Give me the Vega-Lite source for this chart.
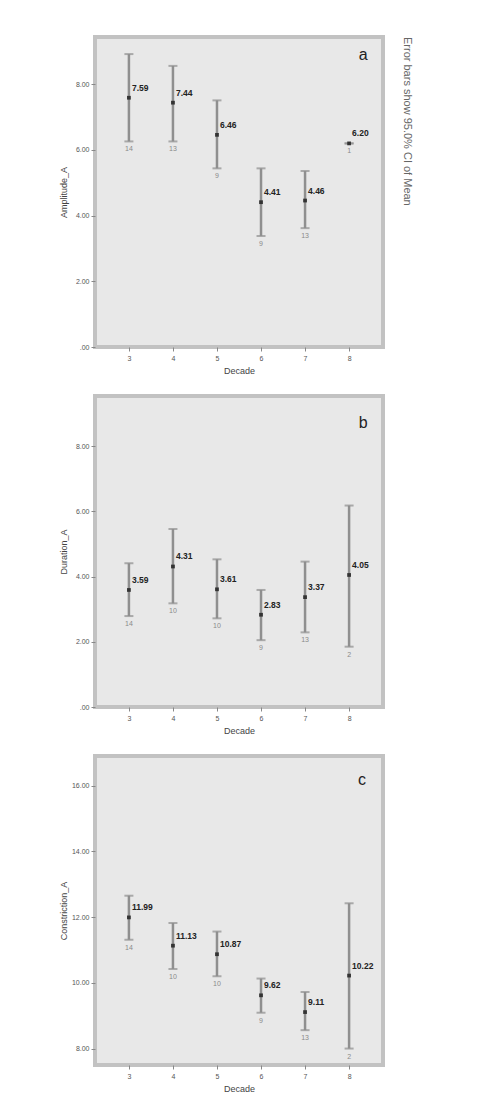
{
  "$schema": "https://vega.github.io/schema/vega-lite/v6.json",
  "padding": {"left": 57, "top": 35, "right": 5, "bottom": 5},
  "background": "white",
  "spacing": 17,
  "config": {
    "font": "Liberation Sans",
    "view": {"fill": "#e8e8e8", "stroke": "#c2c2c2", "strokeWidth": 4},
    "axis": {"grid": false, "domain": false, "labelFontSize": 7, "labelColor": "#555", "titleFontSize": 9, "titleFontWeight": "normal", "titleColor": "#444", "tickColor": "#888", "tickSize": 4},
    "axisX": {"labelAngle": 0, "labelPadding": 3, "titlePadding": 5},
    "axisY": {"minExtent": 24, "maxExtent": 24, "titlePadding": 3, "labelPadding": 2}
  },
  "datasets": {
    "a": [
      {"decade": "3", "mean": 7.59, "lo": 6.26, "hi": 8.92, "n": "14"},
      {"decade": "4", "mean": 7.44, "lo": 6.26, "hi": 8.56, "n": "13"},
      {"decade": "5", "mean": 6.46, "lo": 5.44, "hi": 7.51, "n": "9"},
      {"decade": "6", "mean": 4.41, "lo": 3.38, "hi": 5.44, "n": "9"},
      {"decade": "7", "mean": 4.46, "lo": 3.62, "hi": 5.36, "n": "13"},
      {"decade": "8", "mean": 6.20, "lo": 6.20, "hi": 6.20, "n": "1"}
    ],
    "b": [
      {"decade": "3", "mean": 3.59, "lo": 2.79, "hi": 4.41, "n": "14"},
      {"decade": "4", "mean": 4.31, "lo": 3.18, "hi": 5.46, "n": "10"},
      {"decade": "5", "mean": 3.61, "lo": 2.72, "hi": 4.53, "n": "10"},
      {"decade": "6", "mean": 2.83, "lo": 2.05, "hi": 3.59, "n": "9"},
      {"decade": "7", "mean": 3.37, "lo": 2.29, "hi": 4.46, "n": "13"},
      {"decade": "8", "mean": 4.05, "lo": 1.85, "hi": 6.18, "n": "2"}
    ],
    "c": [
      {"decade": "3", "mean": 11.99, "lo": 11.31, "hi": 12.65, "n": "14"},
      {"decade": "4", "mean": 11.13, "lo": 10.42, "hi": 11.82, "n": "10"},
      {"decade": "5", "mean": 10.87, "lo": 10.20, "hi": 11.56, "n": "10"},
      {"decade": "6", "mean": 9.62, "lo": 9.09, "hi": 10.13, "n": "9"},
      {"decade": "7", "mean": 9.11, "lo": 8.56, "hi": 9.72, "n": "13"},
      {"decade": "8", "mean": 10.22, "lo": 8.00, "hi": 12.42, "n": "2"}
    ]
  },
  "vconcat": [
    {
      "width": 288, "height": 310,
      "title": {"text": "Error bars show 95.0% CI of Mean", "orient": "right", "anchor": "start", "fontSize": 11, "fontWeight": "normal", "color": "#666", "offset": 19},
      "data": {"name": "a"},
      "layer": [
        {"mark": {"type": "rule", "color": "#8f8f8f", "strokeWidth": 2.5},
         "encoding": {
           "x": {"field": "decade", "type": "ordinal", "scale": {"type": "point", "padding": 0.77, "domain": ["3", "4", "5", "6", "7", "8"]}, "axis": {"title": "Decade"}},
           "y": {"field": "lo", "type": "quantitative", "scale": {"domain": [0, 9.44], "nice": false, "zero": false}, "axis": {"title": "Amplitude_A", "values": [0, 2, 4, 6, 8], "labelExpr": "datum.value == 0 ? '.00' : format(datum.value, '.2f')"}},
           "y2": {"field": "hi"}}},
        {"mark": {"type": "tick", "color": "#8f8f8f", "thickness": 2, "size": 9},
         "encoding": {"x": {"field": "decade", "type": "ordinal"}, "y": {"field": "hi", "type": "quantitative"}}},
        {"mark": {"type": "tick", "color": "#8f8f8f", "thickness": 2, "size": 9},
         "encoding": {"x": {"field": "decade", "type": "ordinal"}, "y": {"field": "lo", "type": "quantitative"}}},
        {"mark": {"type": "square", "size": 14, "color": "#333", "opacity": 1, "filled": true},
         "encoding": {"x": {"field": "decade", "type": "ordinal"}, "y": {"field": "mean", "type": "quantitative"}}},
        {"mark": {"type": "text", "align": "left", "dx": 3, "dy": -10, "fontSize": 8.5, "fontWeight": "bold", "color": "#222"},
         "encoding": {"x": {"field": "decade", "type": "ordinal"}, "y": {"field": "mean", "type": "quantitative"}, "text": {"field": "mean", "type": "quantitative", "format": ".2f"}}},
        {"mark": {"type": "text", "dy": 8, "fontSize": 7, "color": "#8a8a8a"},
         "encoding": {"x": {"field": "decade", "type": "ordinal"}, "y": {"field": "lo", "type": "quantitative"}, "text": {"field": "n"}}},
        {"data": {"values": [{"decade": "8", "v": 8.88, "t": "a"}]},
         "mark": {"type": "text", "dx": 14, "fontSize": 16, "color": "#222"},
         "encoding": {"x": {"field": "decade", "type": "ordinal"}, "y": {"field": "v", "type": "quantitative"}, "text": {"field": "t"}}}
      ]
    },
    {
      "width": 288, "height": 311,
      "data": {"name": "b"},
      "layer": [
        {"mark": {"type": "rule", "color": "#8f8f8f", "strokeWidth": 2.5},
         "encoding": {
           "x": {"field": "decade", "type": "ordinal", "scale": {"type": "point", "padding": 0.77, "domain": ["3", "4", "5", "6", "7", "8"]}, "axis": {"title": "Decade"}},
           "y": {"field": "lo", "type": "quantitative", "scale": {"domain": [0, 9.54], "nice": false, "zero": false}, "axis": {"title": "Duration_A", "values": [0, 2, 4, 6, 8], "labelExpr": "datum.value == 0 ? '.00' : format(datum.value, '.2f')"}},
           "y2": {"field": "hi"}}},
        {"mark": {"type": "tick", "color": "#8f8f8f", "thickness": 2, "size": 9},
         "encoding": {"x": {"field": "decade", "type": "ordinal"}, "y": {"field": "hi", "type": "quantitative"}}},
        {"mark": {"type": "tick", "color": "#8f8f8f", "thickness": 2, "size": 9},
         "encoding": {"x": {"field": "decade", "type": "ordinal"}, "y": {"field": "lo", "type": "quantitative"}}},
        {"mark": {"type": "square", "size": 14, "color": "#333", "opacity": 1, "filled": true},
         "encoding": {"x": {"field": "decade", "type": "ordinal"}, "y": {"field": "mean", "type": "quantitative"}}},
        {"mark": {"type": "text", "align": "left", "dx": 3, "dy": -10, "fontSize": 8.5, "fontWeight": "bold", "color": "#222"},
         "encoding": {"x": {"field": "decade", "type": "ordinal"}, "y": {"field": "mean", "type": "quantitative"}, "text": {"field": "mean", "type": "quantitative", "format": ".2f"}}},
        {"mark": {"type": "text", "dy": 8, "fontSize": 7, "color": "#8a8a8a"},
         "encoding": {"x": {"field": "decade", "type": "ordinal"}, "y": {"field": "lo", "type": "quantitative"}, "text": {"field": "n"}}},
        {"data": {"values": [{"decade": "8", "v": 8.72, "t": "b"}]},
         "mark": {"type": "text", "dx": 14, "fontSize": 16, "color": "#222"},
         "encoding": {"x": {"field": "decade", "type": "ordinal"}, "y": {"field": "v", "type": "quantitative"}, "text": {"field": "t"}}}
      ]
    },
    {
      "width": 288, "height": 309,
      "data": {"name": "c"},
      "layer": [
        {"mark": {"type": "rule", "color": "#8f8f8f", "strokeWidth": 2.5},
         "encoding": {
           "x": {"field": "decade", "type": "ordinal", "scale": {"type": "point", "padding": 0.77, "domain": ["3", "4", "5", "6", "7", "8"]}, "axis": {"title": "Decade"}},
           "y": {"field": "lo", "type": "quantitative", "scale": {"domain": [7.5, 16.9], "nice": false, "zero": false}, "axis": {"title": "Constriction_A", "values": [8, 10, 12, 14, 16], "format": ".2f"}},
           "y2": {"field": "hi"}}},
        {"mark": {"type": "tick", "color": "#8f8f8f", "thickness": 2, "size": 9},
         "encoding": {"x": {"field": "decade", "type": "ordinal"}, "y": {"field": "hi", "type": "quantitative"}}},
        {"mark": {"type": "tick", "color": "#8f8f8f", "thickness": 2, "size": 9},
         "encoding": {"x": {"field": "decade", "type": "ordinal"}, "y": {"field": "lo", "type": "quantitative"}}},
        {"mark": {"type": "square", "size": 14, "color": "#333", "opacity": 1, "filled": true},
         "encoding": {"x": {"field": "decade", "type": "ordinal"}, "y": {"field": "mean", "type": "quantitative"}}},
        {"mark": {"type": "text", "align": "left", "dx": 3, "dy": -10, "fontSize": 8.5, "fontWeight": "bold", "color": "#222"},
         "encoding": {"x": {"field": "decade", "type": "ordinal"}, "y": {"field": "mean", "type": "quantitative"}, "text": {"field": "mean", "type": "quantitative", "format": ".2f"}}},
        {"mark": {"type": "text", "dy": 8, "fontSize": 7, "color": "#8a8a8a"},
         "encoding": {"x": {"field": "decade", "type": "ordinal"}, "y": {"field": "lo", "type": "quantitative"}, "text": {"field": "n"}}},
        {"data": {"values": [{"decade": "8", "v": 16.16, "t": "c"}]},
         "mark": {"type": "text", "dx": 13, "fontSize": 16, "color": "#222"},
         "encoding": {"x": {"field": "decade", "type": "ordinal"}, "y": {"field": "v", "type": "quantitative"}, "text": {"field": "t"}}}
      ]
    }
  ]
}
